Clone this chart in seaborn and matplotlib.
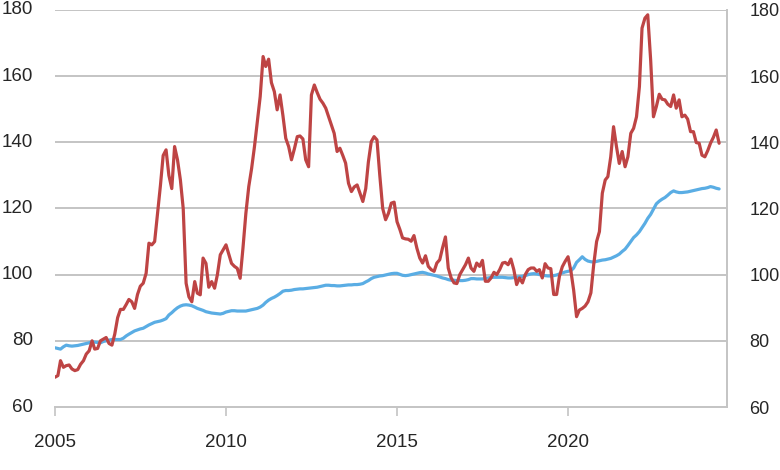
import numpy as np
import pandas as pd
import seaborn as sns
from matplotlib import pyplot as plt

# monthly values, Jan 2005 - Jun 2024
red_vals = [
    69, 69.5, 74, 72, 72.5, 72.7, 71.5, 71, 71.3, 72.9, 74, 76,            # 2005
    77, 80, 77.5, 77.7, 80, 80.5, 81, 79.2, 78.7, 82, 87, 89.5,            # 2006
    89.5, 91, 92.5, 91.8, 89.8, 94, 96.5, 97.4, 100.4, 109.5, 109, 110,    # 2007
    118.5, 127, 136, 137.7, 130, 126, 138.7, 134.7, 128.6, 120, 97.4, 93.3,  # 2008
    91.8, 97.9, 94.4, 93.9, 105, 103.4, 96.2, 97.9, 95.9, 100, 106, 107.5,   # 2009
    109, 106, 103.4, 102.5, 101.9, 98.9, 108, 118.5, 126.6, 132, 138.7, 146,  # 2010
    153.8, 165.9, 162.9, 165.1, 158, 155.3, 149.8, 154.3, 148, 141.2, 138.7, 134.7,  # 2011
    138, 141.7, 141.9, 141, 134.7, 132.6, 154.3, 157.3, 155, 153, 151.8, 150.3,      # 2012
    147.7, 145, 142.7, 137.2, 138.2, 136, 133.7, 127.6, 125.1, 126.5, 127.1, 124.6,  # 2013
    122.1, 126, 134, 140.2, 141.7, 140.7, 130, 120, 116.6, 118.5, 121.6, 121.9,      # 2014
    116, 113.6, 111.1, 110.8, 110.7, 110.1, 111.8, 108, 105, 103.5, 105.7, 102.5,    # 2015
    101.5, 101, 103.5, 104.5, 108.1, 111.4, 102, 99, 97.5, 97.3, 100, 101.5,         # 2016
    103, 105, 102, 101, 103.5, 102.5, 104.3, 98, 98, 99, 100.7, 100,                 # 2017
    101.5, 103.5, 103.7, 103, 104.7, 101.5, 97, 99, 97.5, 100, 101.5, 102,           # 2018
    102, 101, 101.5, 99, 103.3, 102, 101.8, 94, 94, 99.5, 102.4, 104,                # 2019
    105.4, 101, 95.3, 87.3, 89.3, 89.8, 90.5, 91.8, 94.5, 103, 110, 113,             # 2020
    124.6, 128.6, 129.6, 135.6, 144.7, 138.7, 133.6, 137.2, 132.6, 135.6, 142.7, 144.2,  # 2021
    147.7, 156.8, 174.5, 177.5, 178.5, 164.9, 147.7, 150.8, 154.5, 153, 152.8, 151.5,    # 2022
    150.8, 154.3, 150.3, 152.8, 147.7, 148.2, 147, 143.2, 143.2, 139.9, 139.7, 136.1,    # 2023
    135.6, 137.5, 139.7, 141.5, 143.7, 139.7,                                            # 2024
]

blue_vals = [
    77.9, 77.7, 77.5, 78.2, 78.7, 78.5, 78.4, 78.5, 78.6, 78.8, 79, 79.2,
    79.4, 79.7, 79.6, 79.5, 79.4, 79.8, 80, 80.2, 80.4, 80.4, 80.4, 80.4,
    80.8, 81.5, 82, 82.5, 83, 83.3, 83.6, 83.8, 84.3, 84.8, 85.2, 85.6,
    85.8, 86, 86.3, 86.7, 87.8, 88.5, 89.3, 90, 90.5, 90.8, 90.9, 90.8,
    90.6, 90.2, 89.8, 89.5, 89.2, 88.8, 88.6, 88.4, 88.3, 88.2, 88.1, 88.3,
    88.7, 88.9, 89.1, 89.1, 89, 89, 89, 89, 89.2, 89.4, 89.6, 89.8,
    90.2, 90.8, 91.6, 92.3, 92.8, 93.2, 93.7, 94.3, 95, 95.2, 95.2, 95.3,
    95.5, 95.6, 95.7, 95.7, 95.8, 95.9, 96, 96.1, 96.2, 96.4, 96.6, 96.8,
    96.8, 96.7, 96.7, 96.6, 96.6, 96.7, 96.8, 96.9, 96.9, 97, 97, 97.1,
    97.3, 97.8, 98.2, 98.8, 99.2, 99.4, 99.6, 99.7, 99.9, 100.1, 100.3, 100.4,
    100.4, 100.1, 99.8, 99.7, 99.8, 100, 100.2, 100.4, 100.6, 100.7, 100.5, 100.2,
    100, 99.8, 99.6, 99.3, 99, 98.8, 98.5, 98.3, 98.3, 98.2, 98.2, 98.2,
    98.3, 98.5, 98.8, 98.8, 98.7, 98.7, 98.7, 98.9, 99, 99.2, 99.2, 99.2,
    99.2, 99.2, 99.1, 99, 99, 99.1, 99.2, 99.4, 99.5, 99.7, 100, 100.2,
    100.3, 100.2, 100, 99.8, 99.7, 99.6, 99.6, 99.7, 99.9, 100.2, 100.5, 100.8,
    101, 101.2, 102, 103.7, 104.5, 105.4, 104.6, 104.1, 103.9, 103.8, 104, 104.2,
    104.4, 104.5, 104.7, 104.9, 105.3, 105.7, 106.2, 107, 107.7, 108.8, 110, 111.2,
    112, 113, 114.2, 115.5, 117, 118.2, 119.8, 121.4, 122.2, 122.8, 123.3, 124,
    124.8, 125.3, 125, 124.8, 124.8, 124.9, 125, 125.2, 125.4, 125.6, 125.8, 126,
    126.1, 126.3, 126.6, 126.4, 126.1, 125.9,
]

dates = pd.date_range('2005-01-01', periods=len(red_vals), freq='MS')
df = pd.DataFrame({'date': dates, 'red': red_vals, 'blue': blue_vals})

yticks = [60, 80, 100, 120, 140, 160, 180]
xtick_years = [2005, 2010, 2015, 2020]

sns.set_style('white')
plt.rcParams['font.family'] = ['Liberation Sans', 'DejaVu Sans']

fig = plt.figure(figsize=(7.8, 4.7), dpi=100)
ax = fig.add_axes([0.0705, 0.134, 0.862, 0.845])

sns.lineplot(data=df, x='date', y='blue', ax=ax, color='#5AADE4', linewidth=2.3)
sns.lineplot(data=df, x='date', y='red', ax=ax, color='#BE4444', linewidth=2.3)

grid_col = '#C4C4C4'
ax.set_ylim(60, 180)
ax.set_xlim(pd.Timestamp('2005-01-01'), pd.Timestamp('2024-08-28'))
ax.set_yticks(yticks)
ax.set_xticks([pd.Timestamp(f'{y}-01-01') for y in xtick_years])
ax.set_xticklabels([str(y) for y in xtick_years])
for v in yticks[1:]:
    ax.axhline(v, color=grid_col, linewidth=1.4, zorder=0)

ax.set_xlabel('')
ax.set_ylabel('')
ax.spines['top'].set_visible(False)
ax.spines['left'].set_visible(False)
ax.spines['bottom'].set_color(grid_col)
ax.spines['bottom'].set_linewidth(1.4)
ax.spines['right'].set_color(grid_col)
ax.spines['right'].set_linewidth(1.4)

ax.tick_params(axis='y', left=False, right=False, labelleft=False, labelright=True,
               labelsize=13, pad=12.5)
ax.tick_params(axis='x', bottom=True, direction='out', length=6.5, width=1.2,
               color=grid_col, labelsize=13.5, pad=13)
# left-hand labels sit a little further from the plot than the right ones
for v in yticks:
    ax.annotate(str(v), xy=(0, v), xycoords=('axes fraction', 'data'),
                xytext=(-22, 0), textcoords='offset pixels',
                ha='right', va='center', fontsize=13.5)

fig.savefig('out.png', dpi=100)
